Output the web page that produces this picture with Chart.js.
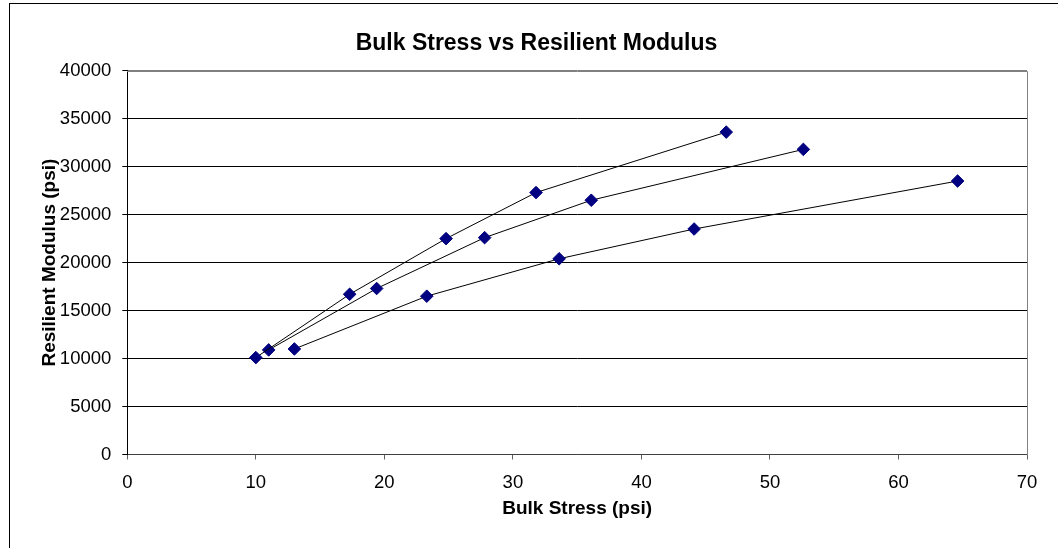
<!DOCTYPE html>
<html>
<head>
<meta charset="utf-8">
<script src="https://cdn.jsdelivr.net/npm/chart.js@4/dist/chart.umd.min.js"></script>
<style>
  html, body { margin: 0; padding: 0; background: #fff; overflow: hidden; }
  #frame { position: absolute; left: 9px; top: 3px; width: 1200px; height: 700px; border: 1px solid #000; box-sizing: border-box; }
  #wrap { position: absolute; left: 0; top: 0; width: 1058px; height: 548px; }
</style>
</head>
<body>
<div id="frame"></div>
<div id="wrap"><canvas id="c" width="1058" height="548"></canvas></div>
<script>
// ---- data ----
const chartTitle = "Bulk Stress vs Resilient Modulus";
const xAxisTitle = "Bulk Stress (psi)";
const yAxisTitle = "Resilient Modulus (psi)";

const bulkStressA = [10.0, 17.3, 24.8, 31.8, 46.6];
const modulusA    = [10100, 16700, 22500, 27300, 33600];
const bulkStressB = [11.0, 19.4, 27.8, 36.1, 52.6];
const modulusB    = [10900, 17300, 22600, 26500, 31800];
const bulkStressC = [13.0, 23.3, 33.6, 44.1, 64.6];
const modulusC    = [11000, 16500, 20400, 23500, 28500];

const xMin = 0, xMax = 70, xStep = 10;
const yMin = 0, yMax = 40000, yStep = 5000;

// ---- build ----
function pts(xs, ys) { return xs.map((x, i) => ({ x: x, y: ys[i] })); }
const FONT = "'Liberation Sans', Arial, sans-serif";
const NAVY = '#000080';

function ds(xs, ys) {
  return {
    data: pts(xs, ys),
    showLine: true,
    borderColor: '#000',
    borderWidth: 1,
    tension: 0,
    pointStyle: 'rectRot',
    pointRadius: 6.3,
    pointBackgroundColor: NAVY,
    pointBorderColor: NAVY,
    pointBorderWidth: 1
  };
}

const PAD_LEFT = 46, PAD_RIGHT = 31;
const AREA_LEFT = 127.3, AREA_BOTTOM = 454.5;

const frameEdges = {
  id: 'frameEdges',
  afterDraw(chart) {
    const { ctx, chartArea: a } = chart;
    ctx.save();
    ctx.strokeStyle = '#808080';
    ctx.lineWidth = 1;
    ctx.beginPath();
    const t = Math.round(a.top) + 0.5, r = Math.round(a.right) + 0.5;
    ctx.moveTo(Math.round(a.left), t);
    ctx.lineTo(r, t);
    ctx.lineTo(r, Math.round(a.bottom));
    ctx.stroke();
    ctx.restore();
  }
};

new Chart(document.getElementById('c'), {
  type: 'scatter',
  data: { datasets: [ds(bulkStressA, modulusA), ds(bulkStressB, modulusB), ds(bulkStressC, modulusC)] },
  options: {
    responsive: false,
    animation: false,
    layout: { padding: { left: PAD_LEFT, right: PAD_RIGHT, top: 0, bottom: 0 } },
    plugins: {
      legend: { display: false },
      tooltip: { enabled: false },
      title: {
        display: true,
        text: chartTitle,
        color: '#000',
        font: { family: FONT, size: 23, weight: 'bold' },
        padding: { top: 29.7, bottom: 13.4 }
      }
    },
    scales: {
      x: {
        type: 'linear',
        min: xMin, max: xMax,
        ticks: { stepSize: xStep, color: '#000', font: { family: FONT, size: 18.5 }, padding: 12, maxRotation: 0,
                 callback: (v) => String(v) },
        grid: { drawOnChartArea: false, tickLength: 5, tickColor: '#606060' },
        border: { color: '#404040', width: 1 },
        title: { display: true, text: xAxisTitle, color: '#000', font: { family: FONT, size: 19, weight: 'bold' }, padding: { top: 0, bottom: 27.6 } },
        afterFit(s) { s.height = 548 - AREA_BOTTOM; }
      },
      y: {
        type: 'linear',
        min: yMin, max: yMax,
        ticks: { stepSize: yStep, color: '#000', font: { family: FONT, size: 18.5 }, padding: 11,
                 callback: (v) => String(v) },
        grid: {
          tickLength: 5,
          tickColor: '#000',
          color: (c) => c.tick && c.tick.value === yMax ? '#808080' : (c.tick && c.tick.value === yMin ? '#404040' : '#000')
        },
        border: { color: '#000', width: 1 },
        title: { display: true, text: yAxisTitle, color: '#000', font: { family: FONT, size: 19, weight: 'bold' }, padding: { top: -7.8, bottom: 0 } },
        afterFit(s) { s.width = AREA_LEFT - PAD_LEFT; }
      }
    }
  },
  plugins: [frameEdges]
});
</script>
</body>
</html>
